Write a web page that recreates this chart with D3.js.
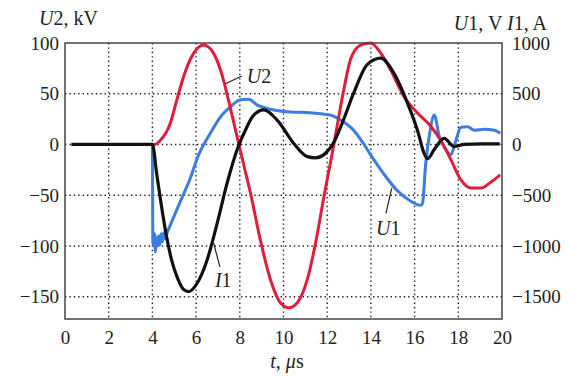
<!DOCTYPE html>
<html>
<head>
<meta charset="utf-8">
<script src="https://cdn.jsdelivr.net/npm/d3@7"></script>
<style>
  body { margin: 0; background: #fff; }
  svg { display: block; font-family: "Liberation Serif", "DejaVu Serif", serif; }
</style>
</head>
<body>
<svg width="571" height="376"></svg>
<script>
// time axis, µs
const xTicks = [0, 2, 4, 6, 8, 10, 12, 14, 16, 18, 20];
const leftTicks = [100, 50, 0, -50, -100, -150];
const rightTicks = [1000, 500, 0, -500, -1000, -1500];

// U2, kV  [t, value]
const u2 = [
  [0.3, 0], [1, 0], [2, 0], [3, 0], [4.1, 0], [4.36, 4], [4.82, 21], [5.12, 44], [5.43, 67],
  [5.89, 90], [6.34, 98], [6.8, 90], [7.26, 63], [7.5, 42], [7.72, 22], [8.18, -20],
  [8.49, -48], [8.94, -94], [9.4, -133], [9.86, -156], [10.24, -161], [10.63, -156],
  [11.09, -133], [11.55, -88], [11.82, -55], [12.28, -3], [12.74, 52], [13.07, 84],
  [13.53, 98], [13.99, 100], [14.45, 90], [14.91, 73], [15.52, 47], [16.13, 31],
  [16.74, 18], [17.2, 4], [17.66, -15], [18.12, -35], [18.58, -43], [19.04, -43],
  [19.5, -37], [19.92, -30]
];

// I1, A  [t, value]
const i1 = [
  [0.3, 0], [1, 0], [2, 0], [3, 0], [4.0, 0], [4.2, -296], [4.42, -613], [4.65, -909],
  [4.88, -1140], [5.12, -1300], [5.43, -1430], [5.66, -1450], [6.04, -1370], [6.5, -1140],
  [6.96, -780], [7.42, -380], [7.88, -50], [8.33, 175], [8.6, 280], [9.1, 340], [9.71, 240],
  [10.47, 10], [11.09, -120], [11.47, -132], [11.85, -100], [12.28, 12], [12.74, 240],
  [13.2, 500], [13.84, 790], [14.45, 850], [15.06, 700], [15.67, 410], [16.13, 140],
  [16.44, -90], [16.59, -140], [16.9, -50], [17.35, 60], [17.81, -20], [18.27, 0],
  [19.04, 5], [19.9, 5]
];

// U1, V  [t, value]
const u1 = [
  [0.3, 0], [2, 0], [4.0, 0], [4.02, -950], [4.06, -1000], [4.1, -880], [4.14, -1060],
  [4.18, -920], [4.22, -1000], [4.28, -900], [4.34, -990], [4.4, -880], [4.46, -960],
  [4.52, -870], [4.6, -930], [4.66, -880], [4.81, -800], [5.26, -570], [5.72, -340],
  [6.1, -110], [6.65, 110], [7.11, 270], [7.57, 370], [8.03, 440], [8.41, 445],
  [8.79, 390], [9.56, 340], [10.32, 320], [11.21, 313], [12.13, 290], [12.74, 224],
  [13.2, 143], [13.65, 12], [14.04, -120], [14.57, -284], [15.18, -449], [15.79, -555],
  [16.28, -600], [16.36, -580], [16.51, -185], [16.67, 80], [16.9, 290], [17.13, 80],
  [17.35, -20], [17.66, -100], [17.89, 40], [18.12, 170], [18.43, 175], [18.73, 140],
  [19.19, 150], [19.65, 140], [19.92, 110]
];

const svg = d3.select('svg');
const margin = { left: 65, right: 69, top: 43, bottom: 57 };
const W = 571 - margin.left - margin.right;
const H = 376 - margin.top - margin.bottom;
const g = svg.append('g').attr('transform', `translate(${margin.left},${margin.top})`);

const x = d3.scaleLinear().domain([0, 20]).range([0, W]);
const yL = d3.scaleLinear().domain([-172, 100]).range([H, 0]);
const yR = d3.scaleLinear().domain([-1720, 1000]).range([H, 0]);

const fmt = d => (d < 0 ? '\u2212' + Math.abs(d) : String(d));

// dotted grid
const grid = g.append('g').attr('stroke', '#222').attr('stroke-width', 1.4)
  .attr('stroke-dasharray', '1.4,3');
grid.selectAll('.vx').data(xTicks.slice(1, -1)).enter().append('line')
  .attr('x1', d => x(d)).attr('x2', d => x(d)).attr('y1', 0).attr('y2', H);
grid.selectAll('.hy').data(leftTicks.slice(1)).enter().append('line')
  .attr('x1', 0).attr('x2', W).attr('y1', d => yL(d)).attr('y2', d => yL(d));

// axes
const styleAxis = sel => {
  sel.attr('font-family', '"Liberation Serif", serif').attr('font-size', 19);
  sel.select('.domain').remove();
  sel.selectAll('text').attr('fill', '#222');
};
g.append('g').attr('transform', `translate(0,${H})`)
  .call(d3.axisBottom(x).tickValues(xTicks).tickSize(0).tickPadding(12).tickFormat(fmt))
  .call(styleAxis);
g.append('g')
  .call(d3.axisLeft(yL).tickValues(leftTicks).tickSize(0).tickPadding(6).tickFormat(fmt))
  .call(styleAxis);
g.append('g').attr('transform', `translate(${W},0)`)
  .call(d3.axisRight(yR).tickValues(rightTicks).tickSize(0).tickPadding(10).tickFormat(fmt))
  .call(styleAxis);

// curves
const lineL = d3.line().x(d => x(d[0])).y(d => yL(d[1])).curve(d3.curveMonotoneX);
const lineR = d3.line().x(d => x(d[0])).y(d => yR(d[1])).curve(d3.curveMonotoneX);

g.append('path').datum(u1).attr('d', lineR).attr('fill', 'none')
  .attr('stroke', '#3b7de0').attr('stroke-width', 3).attr('stroke-linejoin', 'round');
g.append('path').datum(u2).attr('d', lineL).attr('fill', 'none')
  .attr('stroke', '#e01e3c').attr('stroke-width', 3).attr('stroke-linejoin', 'round');
g.append('path').datum(i1).attr('d', lineR).attr('fill', 'none')
  .attr('stroke', '#111').attr('stroke-width', 3.2).attr('stroke-linejoin', 'round');

// frame
g.append('rect').attr('width', W).attr('height', H).attr('fill', 'none')
  .attr('stroke', '#444').attr('stroke-width', 1.5);

// curve labels with leader lines
const notes = [
  { text: 'U2', tx: 8.32, tv: 60.3, l: [[7.32, 59.6], [8.09, 67.5]] },
  { text: 'I1', tx: 6.86, tv: -140.8, l: [[6.8, -97], [7.09, -120.7]] },
  { text: 'U1', tx: 14.23, tv: -89.2, l: [[14.95, -43.2], [14.69, -67.8]] }
];
notes.forEach(n => {
  g.append('line').attr('x1', x(n.l[0][0])).attr('y1', yL(n.l[0][1]))
    .attr('x2', x(n.l[1][0])).attr('y2', yL(n.l[1][1]))
    .attr('stroke', '#222').attr('stroke-width', 1.2);
  const t = g.append('text').attr('x', x(n.tx)).attr('y', yL(n.tv))
    .attr('font-size', 20).attr('fill', '#222');
  t.append('tspan').attr('font-style', 'italic').text(n.text[0]);
  t.append('tspan').text(n.text.slice(1));
});

// axis titles
const t1 = svg.append('text').attr('x', 39).attr('y', 25).attr('font-size', 20).attr('fill', '#222');
t1.append('tspan').attr('font-style', 'italic').text('U');
t1.append('tspan').text('2, kV');

const t2 = svg.append('text').attr('x', 547).attr('y', 30).attr('font-size', 20)
  .attr('fill', '#222').attr('text-anchor', 'end');
t2.append('tspan').attr('font-style', 'italic').text('U');
t2.append('tspan').text('1, V ');
t2.append('tspan').attr('font-style', 'italic').text('I');
t2.append('tspan').text('1, A');

const t3 = svg.append('text').attr('x', 287).attr('y', 368).attr('font-size', 20)
  .attr('fill', '#222').attr('text-anchor', 'middle');
t3.append('tspan').attr('font-style', 'italic').text('t');
t3.append('tspan').text(', ');
t3.append('tspan').attr('font-style', 'italic').text('μ');
t3.append('tspan').text('s');
</script>
</body>
</html>
